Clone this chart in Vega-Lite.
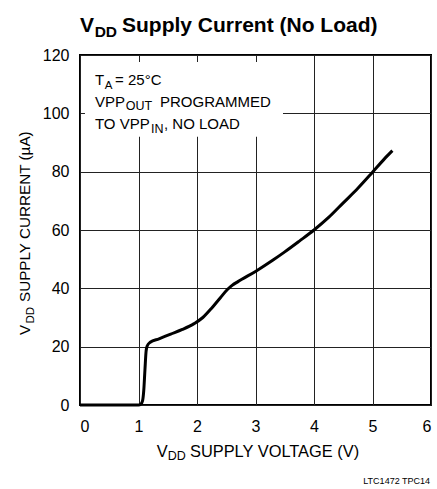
{
  "$schema": "https://vega.github.io/schema/vega-lite/v6.json",
  "width": 351,
  "height": 350,
  "autosize": "none",
  "padding": {"left": 80, "top": 55, "right": 6, "bottom": 84},
  "background": "white",
  "datasets": {
    "curve": [
      {"v": 0, "i": 0}, {"v": 0.5, "i": 0}, {"v": 1.0, "i": 0}, {"v": 1.04, "i": 0.3},
      {"v": 1.07, "i": 1.5}, {"v": 1.09, "i": 5}, {"v": 1.11, "i": 12}, {"v": 1.13, "i": 18.5},
      {"v": 1.15, "i": 20.3}, {"v": 1.2, "i": 21.5}, {"v": 1.35, "i": 22.7}, {"v": 1.55, "i": 24.3},
      {"v": 1.75, "i": 25.9}, {"v": 1.95, "i": 27.9}, {"v": 2.1, "i": 30}, {"v": 2.25, "i": 33.2},
      {"v": 2.4, "i": 36.8}, {"v": 2.52, "i": 39.6}, {"v": 2.6, "i": 41}, {"v": 2.7, "i": 42.3},
      {"v": 3.0, "i": 45.8}, {"v": 3.3, "i": 49.7}, {"v": 3.5, "i": 52.5}, {"v": 3.75, "i": 56.2},
      {"v": 4.0, "i": 60}, {"v": 4.25, "i": 64.3}, {"v": 4.5, "i": 69.3}, {"v": 4.75, "i": 74.3},
      {"v": 5.0, "i": 79.8}, {"v": 5.2, "i": 84.3}, {"v": 5.34, "i": 87.2}
    ],
    "one": [{}]
  },
  "config": {
    "view": {"stroke": "#000", "strokeWidth": 2},
    "font": "Liberation Sans",
    "text": {"font": "Liberation Sans", "color": "#000", "align": "left", "baseline": "alphabetic"},
    "axis": {"grid": true, "gridColor": "#222", "gridWidth": 1, "domain": false, "ticks": false,
      "labelFontSize": 16, "labelColor": "#000", "labelFont": "Liberation Sans"}
  },
  "layer": [
    {
      "data": {"name": "curve"},
      "mark": {"type": "line", "color": "#000", "strokeWidth": 3, "interpolate": "monotone"},
      "encoding": {
        "x": {"field": "v", "type": "quantitative",
          "scale": {"domain": [0, 6], "nice": false, "zero": false},
          "axis": {"values": [0, 1, 2, 3, 4, 5, 6], "format": "d", "title": null, "labelPadding": 13}},
        "y": {"field": "i", "type": "quantitative",
          "scale": {"domain": [0, 120], "nice": false, "zero": false},
          "axis": {"values": [0, 20, 40, 60, 80, 100, 120], "format": "d", "title": null, "labelPadding": 11}}
      }
    },
    {
      "data": {"name": "one"},
      "mark": {"type": "rect", "fill": "white"},
      "encoding": {
        "x": {"datum": 0.085, "type": "quantitative"},
        "x2": {"datum": 3.47},
        "y": {"datum": 92, "type": "quantitative"},
        "y2": {"datum": 117.6}
      }
    },
    {"data": {"name": "one"}, "mark": {"type": "text", "text": "T", "fontSize": 15},
      "encoding": {"x": {"datum": 0.256, "type": "quantitative"}, "y": {"datum": 109.71, "type": "quantitative"}}},
    {"data": {"name": "one"}, "mark": {"type": "text", "text": "A", "fontSize": 11.5},
      "encoding": {"x": {"datum": 0.425, "type": "quantitative"}, "y": {"datum": 108.51, "type": "quantitative"}}},
    {"data": {"name": "one"}, "mark": {"type": "text", "text": "= 25°C", "fontSize": 15},
      "encoding": {"x": {"datum": 0.6, "type": "quantitative"}, "y": {"datum": 109.71, "type": "quantitative"}}},
    {"data": {"name": "one"}, "mark": {"type": "text", "text": "VPP", "fontSize": 15},
      "encoding": {"x": {"datum": 0.256, "type": "quantitative"}, "y": {"datum": 102.27, "type": "quantitative"}}},
    {"data": {"name": "one"}, "mark": {"type": "text", "text": "OUT", "fontSize": 12.5},
      "encoding": {"x": {"datum": 0.783, "type": "quantitative"}, "y": {"datum": 101.14, "type": "quantitative"}}},
    {"data": {"name": "one"}, "mark": {"type": "text", "text": "PROGRAMMED", "fontSize": 15},
      "encoding": {"x": {"datum": 1.368, "type": "quantitative"}, "y": {"datum": 102.27, "type": "quantitative"}}},
    {"data": {"name": "one"}, "mark": {"type": "text", "text": "TO VPP", "fontSize": 15},
      "encoding": {"x": {"datum": 0.256, "type": "quantitative"}, "y": {"datum": 94.52, "type": "quantitative"}}},
    {"data": {"name": "one"}, "mark": {"type": "text", "text": "IN", "fontSize": 12.5},
      "encoding": {"x": {"datum": 1.214, "type": "quantitative"}, "y": {"datum": 93.15, "type": "quantitative"}}},
    {"data": {"name": "one"}, "mark": {"type": "text", "text": ", NO LOAD", "fontSize": 15},
      "encoding": {"x": {"datum": 1.436, "type": "quantitative"}, "y": {"datum": 94.52, "type": "quantitative"}}},
    {"data": {"name": "one"}, "mark": {"type": "text", "text": "V", "fontSize": 21, "fontWeight": "bold"},
      "encoding": {"x": {"datum": 0.0, "type": "quantitative"}, "y": {"datum": 127.89, "type": "quantitative"}}},
    {"data": {"name": "one"}, "mark": {"type": "text", "text": "DD", "fontSize": 15.5, "fontWeight": "bold"},
      "encoding": {"x": {"datum": 0.25, "type": "quantitative"}, "y": {"datum": 126.27, "type": "quantitative"}}},
    {"data": {"name": "one"}, "mark": {"type": "text", "text": "Supply Current (No Load)", "fontSize": 21, "fontWeight": "bold"},
      "encoding": {"x": {"datum": 0.718, "type": "quantitative"}, "y": {"datum": 127.89, "type": "quantitative"}}},
    {"data": {"name": "one"}, "mark": {"type": "text", "text": "V", "fontSize": 15.25, "angle": 270},
      "encoding": {"x": {"datum": -0.855, "type": "quantitative"}, "y": {"datum": 24.0, "type": "quantitative"}}},
    {"data": {"name": "one"}, "mark": {"type": "text", "text": "DD", "fontSize": 11.5, "angle": 270},
      "encoding": {"x": {"datum": -0.786, "type": "quantitative"}, "y": {"datum": 27.94, "type": "quantitative"}}},
    {"data": {"name": "one"}, "mark": {"type": "text", "text": "SUPPLY CURRENT (µA)", "fontSize": 15.25, "angle": 270},
      "encoding": {"x": {"datum": -0.855, "type": "quantitative"}, "y": {"datum": 35.31, "type": "quantitative"}}},
    {"data": {"name": "one"}, "mark": {"type": "text", "text": "V", "fontSize": 16.4},
      "encoding": {"x": {"datum": 1.311, "type": "quantitative"}, "y": {"datum": -17.73, "type": "quantitative"}}},
    {"data": {"name": "one"}, "mark": {"type": "text", "text": "DD", "fontSize": 12.5},
      "encoding": {"x": {"datum": 1.5, "type": "quantitative"}, "y": {"datum": -18.86, "type": "quantitative"}}},
    {"data": {"name": "one"}, "mark": {"type": "text", "text": "SUPPLY VOLTAGE (V)", "fontSize": 16.4},
      "encoding": {"x": {"datum": 1.880, "type": "quantitative"}, "y": {"datum": -17.73, "type": "quantitative"}}},
    {"data": {"name": "one"}, "mark": {"type": "text", "text": "LTC1472 TPC14", "fontSize": 9, "align": "right"},
      "encoding": {"x": {"datum": 5.983, "type": "quantitative"}, "y": {"datum": -27.09, "type": "quantitative"}}}
  ]
}
